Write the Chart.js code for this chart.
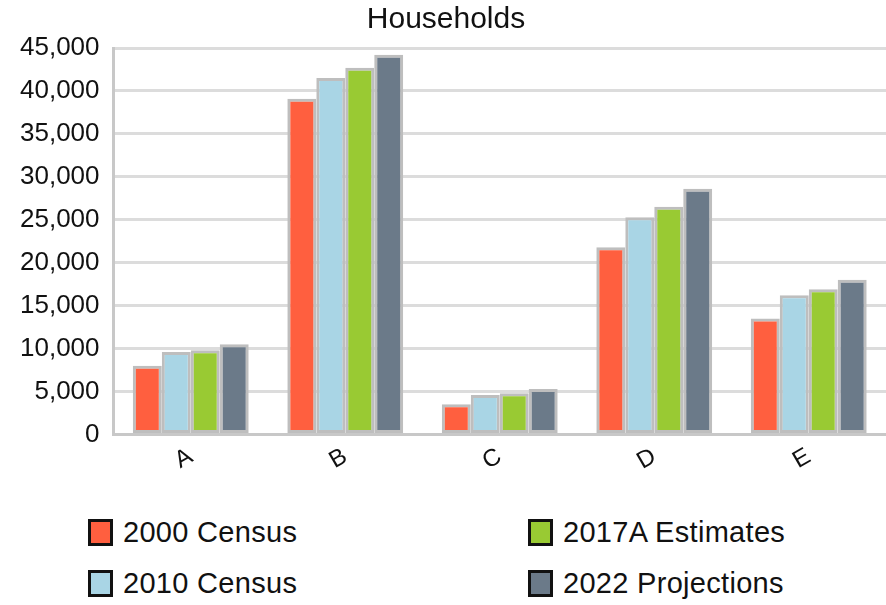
<!DOCTYPE html>
<html>
<head>
<meta charset="utf-8">
<script src="https://cdn.jsdelivr.net/npm/chart.js@4"></script>
<style>
    body { margin: 0; background: #fff; font-family: "Liberation Sans", Arial, sans-serif; }
    #wrap { position: relative; width: 886px; height: 605px; }
    #chartBox { position: absolute; left: 0; top: 0; width: 886px; height: 484px; }
    #legend { position: absolute; left: 88px; top: 517px; width: 790px;
        display: grid; grid-template-columns: 440px 350px; row-gap: 21px; }
    .item { display: flex; align-items: center; font-size: 29px; color: #111; height: 30px; letter-spacing: 0.3px; }
    .box { width: 19px; height: 21px; border: 3px solid #111; margin-right: 10px; }
</style>
</head>
<body>
<div id="wrap">
    <div id="chartBox"><canvas id="householdsChart"></canvas></div>
    <div id="legend"></div>
</div>
<script>
// Chart data
const categories = ['A', 'B', 'C', 'D', 'E'];
const seriesNames = ['2000 Census', '2010 Census', '2017A Estimates', '2022 Projections'];
const census2000 = [8000, 39100, 3500, 21800, 13500];
const census2010 = [9600, 41500, 4600, 25300, 16200];
const estimates2017 = [9800, 42700, 4800, 26500, 16900];
const projections2022 = [10500, 44200, 5300, 28600, 18000];
const yTicks = [0, 5000, 10000, 15000, 20000, 25000, 30000, 35000, 40000, 45000];

const colors = ['#ff5f3f', '#a9d5e5', '#99ca33', '#6b7a89'];
const seriesValues = [census2000, census2010, estimates2017, projections2022];

document.addEventListener('DOMContentLoaded', function() {
    const ctx = document.getElementById('householdsChart');

    new Chart(ctx, {
        type: 'bar',
        data: {
            labels: categories,
            datasets: seriesNames.map((name, i) => ({
                label: name,
                data: seriesValues[i],
                backgroundColor: colors[i],
                borderColor: '#bebebe',
                borderWidth: 3,
                borderSkipped: false,
                barPercentage: 1,
                categoryPercentage: 0.75
            }))
        },
        options: {
            responsive: true,
            maintainAspectRatio: false,
            animation: false,
            layout: { padding: { left: 6, right: 0, top: 2, bottom: 0 } },
            plugins: {
                legend: { display: false },
                tooltip: { enabled: false },
                title: {
                    display: true,
                    text: 'Households',
                    color: '#111',
                    font: { size: 30, family: '"Liberation Sans", Arial, sans-serif', weight: 'normal' },
                    padding: { top: 0, bottom: 10 }
                }
            },
            scales: {
                x: {
                    grid: { display: false, drawTicks: false },
                    border: { color: '#c8c8c8', width: 3 },
                    ticks: {
                        color: '#111',
                        font: { size: 24, family: '"Liberation Sans", Arial, sans-serif' },
                        minRotation: 30,
                        maxRotation: 30,
                        padding: 8
                    }
                },
                y: {
                    min: 0,
                    max: 45000,
                    afterBuildTicks: function(axis) {
                        axis.ticks = yTicks.map(v => ({ value: v }));
                    },
                    grid: { color: '#dcdcdc', lineWidth: 3, drawTicks: false },
                    border: { color: '#c8c8c8', width: 3 },
                    ticks: {
                        color: '#111',
                        padding: 14,
                        font: { size: 26, family: '"Liberation Sans", Arial, sans-serif' },
                        callback: function(value) {
                            return value.toLocaleString('en-US');
                        }
                    }
                }
            }
        }
    });

    // Build legend (two columns, ordered down each column)
    const legend = document.getElementById('legend');
    const order = [0, 2, 1, 3];
    order.forEach(function(i) {
        const item = document.createElement('div');
        item.className = 'item';
        const box = document.createElement('span');
        box.className = 'box';
        box.style.background = colors[i];
        const label = document.createElement('span');
        label.textContent = seriesNames[i];
        item.appendChild(box);
        item.appendChild(label);
        legend.appendChild(item);
    });
});
</script>
</body>
</html>
